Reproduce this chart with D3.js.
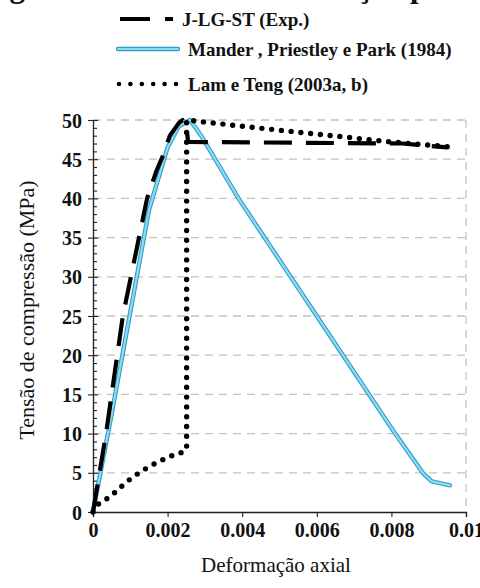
<!DOCTYPE html>
<html>
<head>
<meta charset="utf-8">
<script src="https://cdn.jsdelivr.net/npm/d3@7"></script>
<style>
  html, body { margin: 0; padding: 0; background: #fff; }
  svg { display: block; }
  svg text { font-family: "Liberation Serif", "Times New Roman", serif; }
</style>
</head>
<body>
<svg id="chart" width="480" height="588"></svg>
<script>
// Stress–strain data (strain, stress in MPa)
const expStrain    = [0, 0.00035, 0.0008, 0.00145, 0.0017, 0.00188, 0.00206, 0.0023, 0.0024, 0.00252, 0.00255, 0.0083, 0.0095];
const expStress    = [0, 10, 25, 40, 43.5, 45.5, 48, 49.6, 50, 48.5, 47.2, 47.0, 46.5];

const manderStrain = [0, 0.0005, 0.001, 0.0015, 0.002, 0.0023, 0.0026, 0.0029, 0.0039, 0.0053, 0.0067, 0.0081, 0.00884, 0.00908, 0.00957];
const manderStress = [0, 12.5, 25.5, 38.5, 46.5, 49.2, 50, 48, 40, 30, 20, 10, 5, 3.9, 3.4];

const lamStrain    = [0, 0.00014, 0.00046, 0.00068, 0.00088, 0.00108, 0.0013, 0.00151, 0.00171, 0.00188, 0.00206, 0.00229, 0.00249, 0.00251, 0.00251, 0.004, 0.006, 0.008, 0.0095];
const lamStress    = [0, 1.0, 1.95, 2.9, 3.75, 4.5, 5.2, 5.8, 6.3, 6.7, 7.1, 7.4, 7.9, 8.0, 50, 49.2, 48.2, 47.2, 46.6];

const xTicks = [0, 0.002, 0.004, 0.006, 0.008, 0.01];
const xTickLabels = ["0", "0.002", "0.004", "0.006", "0.008", "0.01"];
const yTicks = [0, 5, 10, 15, 20, 25, 30, 35, 40, 45, 50];
const legendLabels = ["J-LG-ST (Exp.)", "Mander , Priestley e Park (1984)", "Lam e Teng (2003a, b)"];

const svg = d3.select("#chart");
const serif = "'Liberation Serif', 'Times New Roman', serif";

const x = d3.scaleLinear().domain([0, 0.01]).range([93, 466]);
const y = d3.scaleLinear().domain([0, 50]).range([512, 120]);

// Caption line sitting above the figure, cut by the top edge
svg.append("text")
  .attr("x", -18).attr("y", -3)
  .style("font-family", serif).attr("font-weight", "bold").attr("font-size", 31)
  .attr("fill", "#111")
  .text("Figura 5.1 - Tensão-deformação para J-LG-ST");

// Horizontal dashed grid
svg.append("g").selectAll("line").data(yTicks.filter(d => d > 0)).join("line")
  .attr("x1", x(0)).attr("x2", x(0.01))
  .attr("y1", d => y(d)).attr("y2", d => y(d))
  .attr("stroke", "#c4c4c4").attr("stroke-width", 1.3)
  .attr("stroke-dasharray", "8,6");

// Right dashed border
svg.append("line")
  .attr("x1", x(0.01)).attr("x2", x(0.01))
  .attr("y1", y(50)).attr("y2", y(0))
  .attr("stroke", "#c4c4c4").attr("stroke-width", 1.3)
  .attr("stroke-dasharray", "8,6");

// Y axis: majors cross the line, minors every 1 MPa on the inside
const yAxis = svg.append("g").attr("transform", `translate(${x(0)},0)`);
yAxis.call(d3.axisLeft(y).tickValues(d3.range(0, 51, 1)).tickSize(0).tickFormat(""));
yAxis.attr("font-family", null);
yAxis.select(".domain").attr("stroke", "#222").attr("stroke-width", 1.3);
yAxis.selectAll(".tick").each(function(d) {
  const g = d3.select(this);
  g.select("line").remove();
  g.select("text").remove();
  const major = d % 5 === 0;
  g.append("line")
    .attr("x1", major ? -5 : 0).attr("x2", major ? 5 : 4)
    .attr("stroke", "#222").attr("stroke-width", 1.1);
  if (major) {
    g.append("text")
      .attr("x", -11).attr("dy", "0.35em")
      .attr("text-anchor", "end")
      .style("font-family", serif).attr("font-weight", "bold").attr("font-size", 20)
      .attr("fill", "#111")
      .text(d);
  }
});

// X axis
const xAxis = svg.append("g").attr("transform", `translate(0,${y(0)})`);
xAxis.call(d3.axisBottom(x).tickValues(xTicks).tickSize(5)
  .tickFormat((d, i) => xTickLabels[i]));
xAxis.attr("font-family", null);
xAxis.select(".domain").attr("stroke", "#222").attr("stroke-width", 1.3);
xAxis.selectAll(".tick line").attr("stroke", "#222").attr("stroke-width", 1.1);
xAxis.selectAll(".tick text")
  .attr("y", 25).attr("dy", 0)
  .style("font-family", serif).attr("font-weight", "bold").attr("font-size", 20)
  .attr("fill", "#111");

// Axis titles
svg.append("text")
  .attr("x", 276).attr("y", 572)
  .attr("text-anchor", "middle")
  .style("font-family", serif).attr("font-size", 21).attr("fill", "#111")
  .text("Deformação axial");
svg.append("text")
  .attr("transform", "translate(34,310) rotate(-90)")
  .attr("text-anchor", "middle")
  .style("font-family", serif).attr("font-size", 22).attr("fill", "#111")
  .text("Tensão de compressão (MPa)");

const line = d3.line().x(d => x(d[0])).y(d => y(d[1]));
const zipPts = (a, b) => a.map((v, i) => [v, b[i]]);

// Mander curve: light cyan core with darker outline
const manderPts = zipPts(manderStrain, manderStress);
svg.append("path").attr("d", line(manderPts))
  .attr("fill", "none").attr("stroke", "#2e9cc9").attr("stroke-width", 4.4)
  .attr("stroke-linejoin", "round").attr("stroke-linecap", "round");
svg.append("path").attr("d", line(manderPts))
  .attr("fill", "none").attr("stroke", "#8fdcf2").attr("stroke-width", 2.2)
  .attr("stroke-linejoin", "round").attr("stroke-linecap", "round");

// Experimental curve
svg.append("path").attr("d", line(zipPts(expStrain, expStress)))
  .attr("fill", "none").attr("stroke", "#000").attr("stroke-width", 4.2)
  .attr("stroke-dasharray", "28,14").attr("stroke-linejoin", "round");

// Lam & Teng curve (round dots)
svg.append("path").attr("d", line(zipPts(lamStrain, lamStress)))
  .attr("fill", "none").attr("stroke", "#000").attr("stroke-width", 5.4)
  .attr("stroke-dasharray", "0,9.8").attr("stroke-linecap", "round");

// Legend
const legend = svg.append("g");
const legendY = [19, 49, 84];
legend.append("line")
  .attr("x1", 120).attr("x2", 173).attr("y1", legendY[0]).attr("y2", legendY[0])
  .attr("stroke", "#000").attr("stroke-width", 4.2).attr("stroke-dasharray", "30,15");
legend.append("line")
  .attr("x1", 118).attr("x2", 178).attr("y1", legendY[1]).attr("y2", legendY[1])
  .attr("stroke", "#2e9cc9").attr("stroke-width", 4.4).attr("stroke-linecap", "round");
legend.append("line")
  .attr("x1", 118).attr("x2", 178).attr("y1", legendY[1]).attr("y2", legendY[1])
  .attr("stroke", "#8fdcf2").attr("stroke-width", 2.2).attr("stroke-linecap", "round");
legend.append("line")
  .attr("x1", 119).attr("x2", 176).attr("y1", legendY[2]).attr("y2", legendY[2])
  .attr("stroke", "#000").attr("stroke-width", 4.6)
  .attr("stroke-dasharray", "0,11.4").attr("stroke-linecap", "round");
const legendTextX = [182, 188, 188];
legend.selectAll("text").data(legendLabels).join("text")
  .attr("x", (d, i) => legendTextX[i])
  .attr("y", (d, i) => legendY[i] + 7)
  .style("font-family", serif).attr("font-weight", "bold").attr("font-size", 19)
  .attr("fill", "#111")
  .text(d => d);
</script>
</body>
</html>
